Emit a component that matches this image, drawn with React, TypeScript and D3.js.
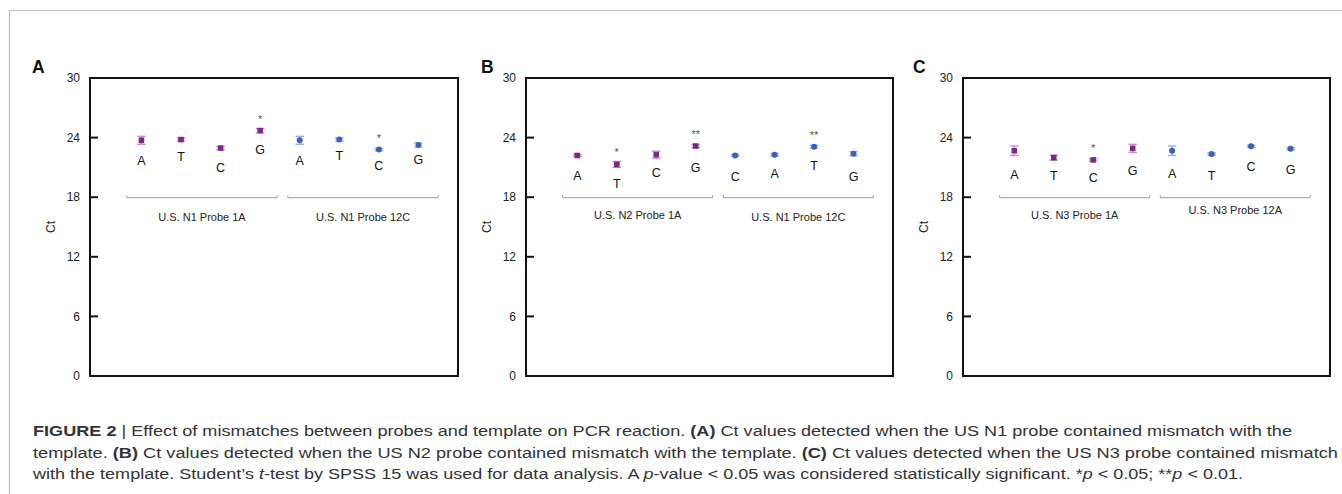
import React from "react";
import * as d3 from "d3";

// ---------- data ----------
const yTicks = [0, 6, 12, 18, 24, 30];

const aPurpleVals = [23.73, 23.8, 22.95, 24.7];
const aPurpleErr = [0.4, 0.15, 0.15, 0.22];
const aBlueVals = [23.73, 23.8, 22.8, 23.25];
const aBlueErr = [0.4, 0.15, 0.12, 0.2];
const aPurpleLetters = ["A", "T", "C", "G"];
const aBlueLetters = ["A", "T", "C", "G"];
const aPurpleSig = ["", "", "", "*"];
const aBlueSig = ["", "", "*", ""];
const aGroups = ["U.S. N1 Probe 1A", "U.S. N1 Probe 12C"];

const bPurpleVals = [22.2, 21.3, 22.28, 23.15];
const bPurpleErr = [0.1, 0.3, 0.35, 0.15];
const bBlueVals = [22.2, 22.28, 23.08, 22.38];
const bBlueErr = [0.1, 0.12, 0.15, 0.2];
const bPurpleLetters = ["A", "T", "C", "G"];
const bBlueLetters = ["C", "A", "T", "G"];
const bPurpleSig = ["", "*", "", "**"];
const bBlueSig = ["", "", "**", ""];
const bGroups = ["U.S. N2 Probe 1A", "U.S. N1 Probe 12C"];

const cPurpleVals = [22.68, 21.98, 21.75, 22.92];
const cPurpleErr = [0.48, 0.25, 0.12, 0.4];
const cBlueVals = [22.68, 22.35, 23.12, 22.88];
const cBlueErr = [0.48, 0.1, 0.1, 0.12];
const cPurpleLetters = ["A", "T", "C", "G"];
const cBlueLetters = ["A", "T", "C", "G"];
const cPurpleSig = ["", "", "*", ""];
const cBlueSig = ["", "", "", ""];
const cGroups = ["U.S. N3 Probe 1A", "U.S. N3 Probe 12A"];

const panelLetters = ["A", "B", "C"];

// ---------- layout / styles ----------
const FONT = "'Liberation Sans', Arial, Helvetica, sans-serif";
const PURPLE = "#7a2a80";
const PURPLE_ERR = "#c889c9";
const BLUE = "#3d5fc2";
const BLUE_ERR = "#97a9e0";

const panelsX = [
  [90, 458],
  [526, 893],
  [963, 1330],
];
const panelLabelX = [32, 481, 913];
// vertical gap (px) between a marker and its base letter, per panel / series
const letterGap = [
  [[20, 17, 19, 19], [20, 16, 16, 14]],
  [[20, 19, 18, 21], [21, 19, 19, 23]],
  [[24, 18, 18, 22], [23, 22, 20, 21]],
];
const groupLabelGap = [
  [19, 19],
  [17.5, 19],
  [17.5, 12.5],
];
const TOP = 78;
const BOTTOM = 376;

type PanelData = {
  label: string;
  pv: number[];
  pe: number[];
  bv: number[];
  be: number[];
  pl: string[];
  bl: string[];
  ps: string[];
  bs: string[];
  groups: string[];
};

const panelData: PanelData[] = [
  { label: panelLetters[0], pv: aPurpleVals, pe: aPurpleErr, bv: aBlueVals, be: aBlueErr, pl: aPurpleLetters, bl: aBlueLetters, ps: aPurpleSig, bs: aBlueSig, groups: aGroups },
  { label: panelLetters[1], pv: bPurpleVals, pe: bPurpleErr, bv: bBlueVals, be: bBlueErr, pl: bPurpleLetters, bl: bBlueLetters, ps: bPurpleSig, bs: bBlueSig, groups: bGroups },
  { label: panelLetters[2], pv: cPurpleVals, pe: cPurpleErr, bv: cBlueVals, be: cBlueErr, pl: cPurpleLetters, bl: cBlueLetters, ps: cPurpleSig, bs: cBlueSig, groups: cGroups },
];

function Panel({ d, idx }: { d: PanelData; idx: number }) {
  const [left, right] = panelsX[idx];
  const y = d3.scaleLinear().domain([0, 30]).range([BOTTOM, TOP]);
  const x = d3.scaleLinear().domain([-1.3, 8]).range([left, right]);
  const series = [
    { vals: d.pv, errs: d.pe, letters: d.pl, sig: d.ps, off: 0, color: PURPLE, ecolor: PURPLE_ERR, shape: "square" },
    { vals: d.bv, errs: d.be, letters: d.bl, sig: d.bs, off: 4, color: BLUE, ecolor: BLUE_ERR, shape: "circle" },
  ];
  const brackets = [
    [-0.37, 3.43],
    [3.7, 7.5],
  ];
  const by = y(18) + 0.5;
  return (
    <g>
      <text x={panelLabelX[idx]} y={72.5} fontFamily={FONT} fontWeight="bold" fontSize={17.5} fill="#111">
        {d.label}
      </text>
      {yTicks.map((t) => (
        <g key={t}>
          <line x1={left} x2={left + 8} y1={y(t)} y2={y(t)} stroke="#111" strokeWidth={2} />
          <text x={left - 10} y={y(t) + 4.2} textAnchor="end" fontFamily={FONT} fontSize={12} fill="#222">
            {t}
          </text>
        </g>
      ))}
      <text
        transform={`translate(${left - 35},${(TOP + BOTTOM) / 2}) rotate(-90)`}
        textAnchor="middle"
        fontFamily={FONT}
        fontSize={12}
        fill="#222"
      >
        Ct
      </text>
      <rect x={left} y={TOP} width={right - left} height={BOTTOM - TOP} fill="none" stroke="#111" strokeWidth={2} />
      {brackets.map((b, i) => (
        <g key={i}>
          <path
            d={`M${x(b[0])},${by - 2.5}L${x(b[0])},${by}L${x(b[1])},${by}L${x(b[1])},${by - 2.5}`}
            fill="none"
            stroke="#9a9a9a"
            strokeWidth={1}
          />
          <text
            x={(x(b[0]) + x(b[1])) / 2}
            y={by + groupLabelGap[idx][i] + 4}
            textAnchor="middle"
            fontFamily={FONT}
            fontSize={11}
            fill="#222"
          >
            {d.groups[i]}
          </text>
        </g>
      ))}
      {series.map((s, si) =>
        s.vals.map((v, i) => {
          const cx = x(i + s.off);
          const cy = y(v);
          const lo = y(v - s.errs[i]);
          const hi = y(v + s.errs[i]);
          return (
            <g key={`${si}-${i}`}>
              <line x1={cx} x2={cx} y1={lo} y2={hi} stroke={s.ecolor} strokeWidth={1.3} />
              <line x1={cx - 4.3} x2={cx + 4.3} y1={lo} y2={lo} stroke={s.ecolor} strokeWidth={1.3} />
              <line x1={cx - 4.3} x2={cx + 4.3} y1={hi} y2={hi} stroke={s.ecolor} strokeWidth={1.3} />
              {s.shape === "square" ? (
                <rect x={cx - 2.8} y={cy - 2.8} width={5.6} height={5.6} fill={s.color} />
              ) : (
                <circle cx={cx} cy={cy} r={3} fill={s.color} />
              )}
              <text
                x={cx}
                y={cy + letterGap[idx][si][i] + 4.5}
                textAnchor="middle"
                fontFamily={FONT}
                fontSize={12.5}
                fill="#111"
              >
                {s.letters[i]}
              </text>
              {s.sig[i] && (
                <text x={cx} y={cy - 8} textAnchor="middle" fontFamily={FONT} fontSize={11} fill="#555">
                  {s.sig[i]}
                </text>
              )}
            </g>
          );
        })
      )}
    </g>
  );
}

export default function App() {
  const capStyle = { fontFamily: FONT, fontSize: 14, fill: "#333" } as const;
  return (
    <svg width={1342} height={494} style={{ position: "absolute", left: 0, top: 0, background: "#fff" }}>
      <path d="M9.5,494L9.5,10.5L1342,10.5" fill="none" stroke="#bdbdbd" strokeWidth={1.2} />
      {panelData.map((d, i) => (
        <Panel key={d.label} d={d} idx={i} />
      ))}
      <text x={33} y={436} {...capStyle} textLength={1259} lengthAdjust="spacingAndGlyphs">
        <tspan fontWeight="bold">FIGURE 2</tspan>
        <tspan> | Effect of mismatches between probes and template on PCR reaction. </tspan>
        <tspan fontWeight="bold">(A)</tspan>
        <tspan> Ct values detected when the US N1 probe contained mismatch with the</tspan>
      </text>
      <text x={33} y={457.5} {...capStyle} textLength={1305} lengthAdjust="spacingAndGlyphs">
        <tspan>template. </tspan>
        <tspan fontWeight="bold">(B)</tspan>
        <tspan> Ct values detected when the US N2 probe contained mismatch with the template. </tspan>
        <tspan fontWeight="bold">(C)</tspan>
        <tspan> Ct values detected when the US N3 probe contained mismatch</tspan>
      </text>
      <text x={33} y={479} {...capStyle} textLength={1210} lengthAdjust="spacingAndGlyphs">
        <tspan>with the template. Student’s </tspan>
        <tspan fontStyle="italic">t</tspan>
        <tspan>-test by SPSS 15 was used for data analysis. A </tspan>
        <tspan fontStyle="italic">p</tspan>
        <tspan>-value &lt; 0.05 was considered statistically significant. *</tspan>
        <tspan fontStyle="italic">p</tspan>
        <tspan> &lt; 0.05; **</tspan>
        <tspan fontStyle="italic">p</tspan>
        <tspan> &lt; 0.01.</tspan>
      </text>
    </svg>
  );
}
